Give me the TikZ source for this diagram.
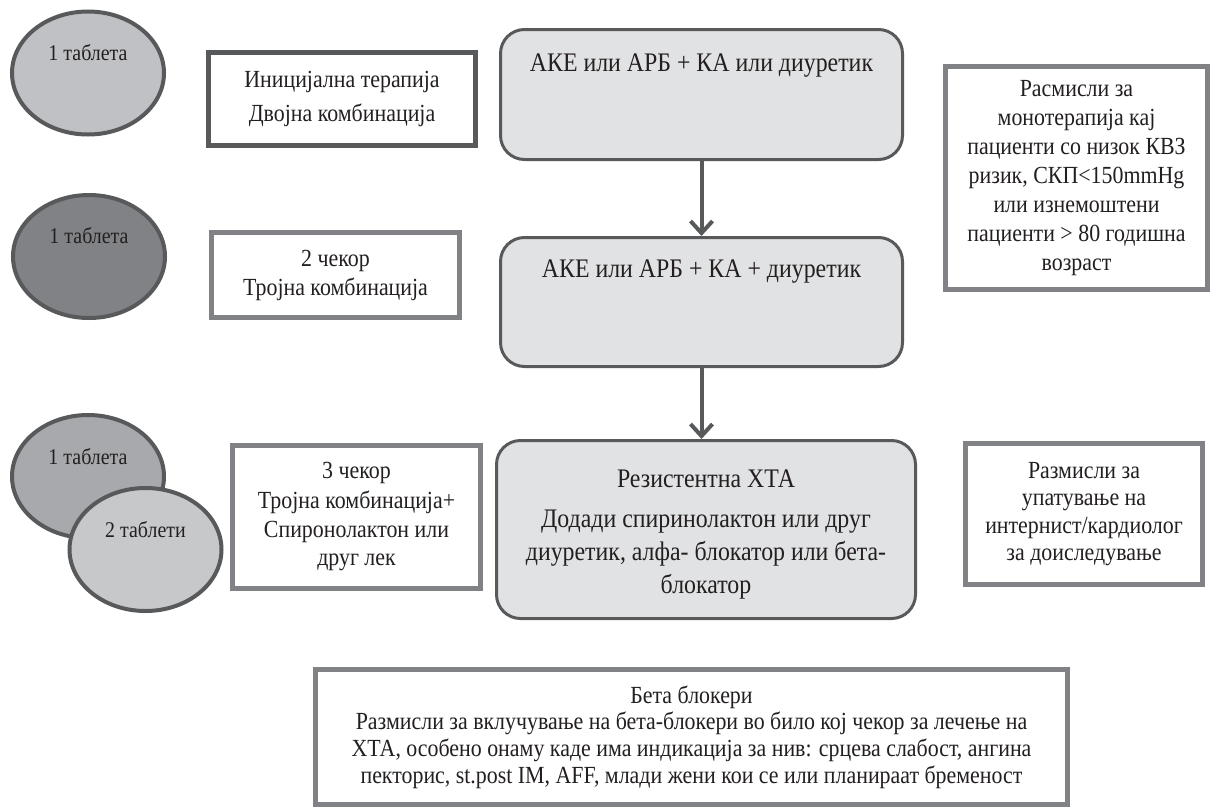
\documentclass[tikz,border=0pt]{standalone}
\usepackage{fontspec}
\setmainfont{Liberation Serif}[FakeStretch=0.89]
\usetikzlibrary{shapes,arrows,arrows.meta,positioning}
\definecolor{inkdark}{HTML}{58595B}
\definecolor{inkmid}{HTML}{808285}
\definecolor{txt}{HTML}{231F20}
\definecolor{boxfill}{HTML}{E1E2E3}
\definecolor{pillA}{HTML}{C0C1C4}
\definecolor{pillB}{HTML}{808285}
\definecolor{pillC}{HTML}{A7A9AC}
\definecolor{pillD}{HTML}{C7C8CA}
\tikzstyle{pill} = [draw=inkdark, ellipse, line width=2pt, inner sep=0pt,
    minimum width=76pt, minimum height=61.5pt]
\tikzstyle{pilltxt} = [text=txt, font=\fontsize{11.2}{13}\selectfont]
\tikzstyle{sidebox} = [draw=inkmid, line width=2.5pt, fill=white, align=center,
    text=txt, inner sep=0pt, font=\fontsize{12.3}{14.5}\selectfont]
\tikzstyle{stepbox} = [draw=inkdark, line width=1.5pt, rounded corners=12pt,
    fill=boxfill, inner sep=0pt]
\tikzstyle{steptxt} = [text=txt, align=center, font=\fontsize{13.4}{16.5}\selectfont]
\tikzstyle{flow} = [draw=inkdark, line width=2pt,
    -{Straight Barb[length=6pt,width=11pt]}]

\begin{document}
\begin{tikzpicture}[x=0.5pt, y=-0.5pt]
  \useasboundingbox (0,0) rectangle (1215,809);
  % tablets
  \node [pill, fill=pillA] (p1) at (88,73) {};
  \node [pilltxt] (p1txt) at ([yshift=-21.5pt]p1.north) {1 таблета};
  \node [pill, fill=pillB] (p2) at (89,256.5) {};
  \node [pilltxt] (p2txt) at ([yshift=-21.5pt]p2.north) {1 таблета};
  \node [pill, fill=pillC] (p3) at (88,476.5) {};
  \node [pilltxt] (p3txt) at ([yshift=-22pt]p3.north) {1 таблета};
  \node [pill, fill=pillD] (p4) at (145.5,549.5) {};
  \node [pilltxt] (p4txt) at ([yshift=-22pt]p4.north) {2 таблети};
  % steps
  \node [sidebox, draw=inkdark, minimum width=133.5pt, minimum height=46.5pt,
    font=\fontsize{12.3}{17}\selectfont] (s1) at (342,99)
    {Иницијална терапија\\Двојна комбинација};
  \node [sidebox, minimum width=124pt, minimum height=42.5pt] (s2) at (335.5,275)
    {2 чекор\\Тројна комбинација};
  \node [sidebox, minimum width=124pt, minimum height=71.5pt] (s3) at (356.5,517)
    {3 чекор\\Тројна комбинација+\\Спиронолактон или\\друг лек};
  % therapy
  \node [stepbox, minimum width=201pt, minimum height=65pt] (m1) at (701.5,94.5) {};
  \node [steptxt] (m1txt) at ([yshift=-19pt]m1.north) {АКЕ или АРБ + КА или диуретик};
  \node [stepbox, minimum width=201pt, minimum height=64.5pt] (m2) at (701.5,302) {};
  \node [steptxt] (m2txt) at ([yshift=-18pt]m2.north) {АКЕ или АРБ + КА + диуретик};
  \node [stepbox, minimum width=209.5pt, minimum height=89pt] (m3) at (706,529.5) {};
  \node [steptxt] (m3txt) at ([yshift=-2.5pt]m3.center)
    {Резистентна ХТА\\[3.5pt]Додади спиринолактон или друг\\диуретик, алфа- блокатор или бета-\\блокатор};
  \draw [flow] (m1) -- (m2);
  \draw [flow] (m2.south) -- (m2.south |- m3.north);
  % notes
  \node [sidebox, minimum width=131pt, minimum height=111.5pt] (r1) at (1076.5,178)
    {Расмисли за\\монотерапија кај\\пациенти со низок КВЗ\\ризик, СКП<150mmHg\\или изнемоштени\\пациенти > 80 годишна\\возраст};
  \node [sidebox, minimum width=118.5pt, minimum height=70.5pt,
    font=\fontsize{12.3}{13.7}\selectfont] (r2) at (1084,514)
    {Размисли за\\упатување на\\интернист/кардиолог\\за доиследување};
  \node [sidebox, minimum width=376pt, minimum height=67.5pt,
    font=\fontsize{12.3}{13.3}\selectfont] (beta) at (691.5,737)
    {Бета блокери\\Размисли за вклучување на бета-блокери во било кој чекор за лечење на\\ХТА, особено онаму каде има индикација за нив: срцева слабост, ангина\\пекторис, st.post IM, AFF, млади жени кои се или планираат бременост};
\end{tikzpicture}
\end{document}
